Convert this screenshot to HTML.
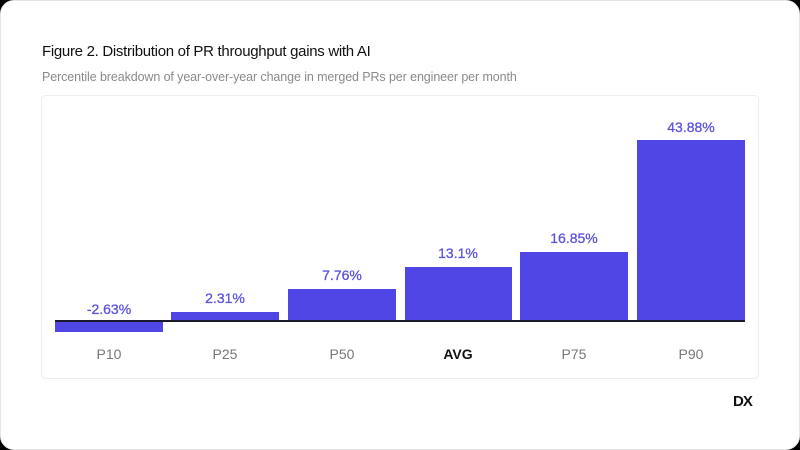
<!DOCTYPE html>
<html><head><meta charset="utf-8"><style>
html,body{margin:0;padding:0;background:#000;width:800px;height:450px;overflow:hidden}
.card{position:absolute;left:0;top:0;width:798px;height:448px;background:#fff;border-radius:14px;border:1px solid #e6e6e6;font-family:"Liberation Sans",sans-serif}
.w{position:absolute;left:-1px;top:-1px;width:800px;height:450px}
.t{position:absolute;left:42px;top:43px;font-size:15px;color:#111;letter-spacing:-0.3px}
.s{position:absolute;left:42px;top:70px;font-size:12.5px;color:#8a8a8a;letter-spacing:-0.1px}
.panel{position:absolute;left:41px;top:95px;width:716px;height:282px;border:1px solid #ececec;border-radius:5px}
.bar{position:absolute;background:#4f46e5}
.v{position:absolute;width:108px;text-align:center;font-size:14px;color:#5b54dd;-webkit-text-stroke:0.3px #5b54dd}
.c{position:absolute;top:346px;width:108px;text-align:center;font-size:14px;color:#777}
.base{position:absolute;left:55px;top:320px;width:690px;height:2px;background:#1a1a2e}
.dx{position:absolute;left:733px;top:393px;font-size:15px;font-weight:bold;color:#111;letter-spacing:-1px}
</style></head><body><div class="card"><div class="w">
<div class="t">Figure 2. Distribution of PR throughput gains with AI</div>
<div class="s">Percentile breakdown of year-over-year change in merged PRs per engineer per month</div>
<div class="panel"></div>
<div class="bar" style="left:55px;top:321px;width:108px;height:11px"></div>
<div class="bar" style="left:171px;top:312px;width:108px;height:9px"></div>
<div class="bar" style="left:288px;top:289px;width:108px;height:32px"></div>
<div class="bar" style="left:405px;top:267px;width:107px;height:54px"></div>
<div class="bar" style="left:520px;top:252px;width:108px;height:69px"></div>
<div class="bar" style="left:637px;top:140px;width:108px;height:181px"></div>
<div class="base"></div>
<div class="v" style="left:55px;top:301px">-2.63%</div>
<div class="v" style="left:171px;top:290px">2.31%</div>
<div class="v" style="left:288px;top:267px">7.76%</div>
<div class="v" style="left:404px;top:245px">13.1%</div>
<div class="v" style="left:520px;top:230px">16.85%</div>
<div class="v" style="left:637px;top:119px">43.88%</div>
<div class="c" style="left:55px">P10</div>
<div class="c" style="left:171px">P25</div>
<div class="c" style="left:288px">P50</div>
<div class="c" style="left:404px;color:#111;font-weight:bold">AVG</div>
<div class="c" style="left:520px">P75</div>
<div class="c" style="left:637px">P90</div>
<div class="dx">DX</div>
</div></div></body></html>
